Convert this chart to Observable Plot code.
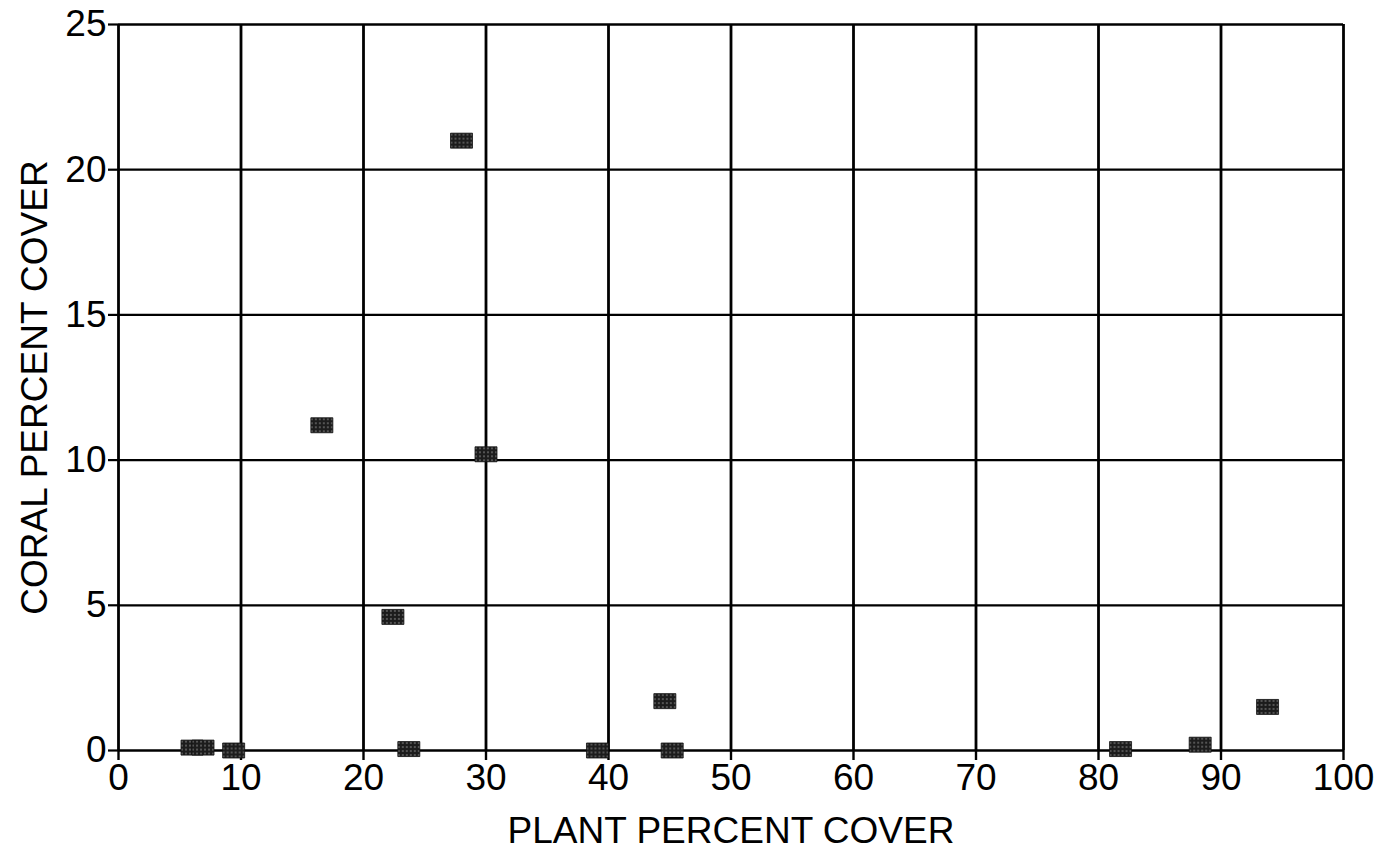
<!DOCTYPE html>
<html>
<head>
<meta charset="utf-8">
<script src="https://cdn.jsdelivr.net/npm/d3@7"></script>
<script src="https://cdn.jsdelivr.net/npm/@observablehq/plot@0.6"></script>
<style>
  html, body { margin: 0; padding: 0; background: #fff; }
  #chart svg { display: block; }
</style>
</head>
<body>
<div id="chart"></div>
<script>
// Data
const plantCover = [6.0, 6.9, 9.4, 16.6, 22.4, 23.7, 28.0, 30.0, 39.1, 44.6, 45.2, 81.8, 88.3, 93.8];
const coralCover = [0.1, 0.1, 0.0, 11.2, 4.6, 0.05, 21.0, 10.2, 0.0, 1.7, 0.0, 0.05, 0.2, 1.5];
const xTicks = [0, 10, 20, 30, 40, 50, 60, 70, 80, 90, 100];
const yTicks = [0, 5, 10, 15, 20, 25];
const xLabel = "PLANT PERCENT COVER";
const yLabel = "CORAL PERCENT COVER";

const data = plantCover.map((p, i) => ({plant: p, coral: coralCover[i]}));

// Rectangular marker symbol (wider than tall)
const rectSymbol = {
  draw(context, size) {
    const w = 11, h = 7.5;
    context.moveTo(-w, -h);
    context.lineTo(w, -h);
    context.lineTo(w, h);
    context.lineTo(-w, h);
    context.closePath();
  }
};

const font = "'Liberation Sans', Arial, Helvetica, sans-serif";

const chart = Plot.plot({
  width: 1398,
  height: 858,
  marginLeft: 118,
  marginRight: 55,
  marginTop: 24,
  marginBottom: 108,
  style: {fontFamily: font, color: "#000", background: "#fff"},
  x: {domain: [0, 100]},
  y: {domain: [0, 25]},
  marks: [
    Plot.gridX(xTicks, {stroke: "#000", strokeOpacity: 1, strokeWidth: 2.8}),
    Plot.gridY(yTicks, {stroke: "#000", strokeOpacity: 1, strokeWidth: 2.3}),
    Plot.axisX(xTicks, {
      tickSize: 10, tickPadding: 3, fontSize: 37, strokeWidth: 2.4,
      tickFormat: d => String(d),
      label: xLabel, labelAnchor: "center", labelOffset: 92, labelArrow: "none"
    }),
    Plot.axisY(yTicks, {
      tickSize: 10, tickPadding: 2, fontSize: 37, strokeWidth: 2.2,
      tickFormat: d => String(d),
      label: yLabel, labelAnchor: "center", labelOffset: 98, labelArrow: "none"
    }),
    Plot.dot(data, {
      x: "plant", y: "coral", symbol: rectSymbol, r: 5,
      fill: "url(#dotpattern)", stroke: "#111", strokeWidth: 0.8
    })
  ]
});

// texture pattern for markers
const defs = d3.select(chart).insert("defs", ":first-child");
const pat = defs.append("pattern")
  .attr("id", "dotpattern")
  .attr("patternUnits", "userSpaceOnUse")
  .attr("width", 4).attr("height", 4);
pat.append("rect").attr("width", 4).attr("height", 4).attr("fill", "#1c1c1c");
pat.append("circle").attr("cx", 2).attr("cy", 2).attr("r", 0.8).attr("fill", "#9a9a9a");

d3.select(chart).selectAll("[aria-label='x-axis label'] text, [aria-label='y-axis label'] text")
  .style("font-size", "37px");

document.getElementById("chart").appendChild(chart);
</script>
</body>
</html>
